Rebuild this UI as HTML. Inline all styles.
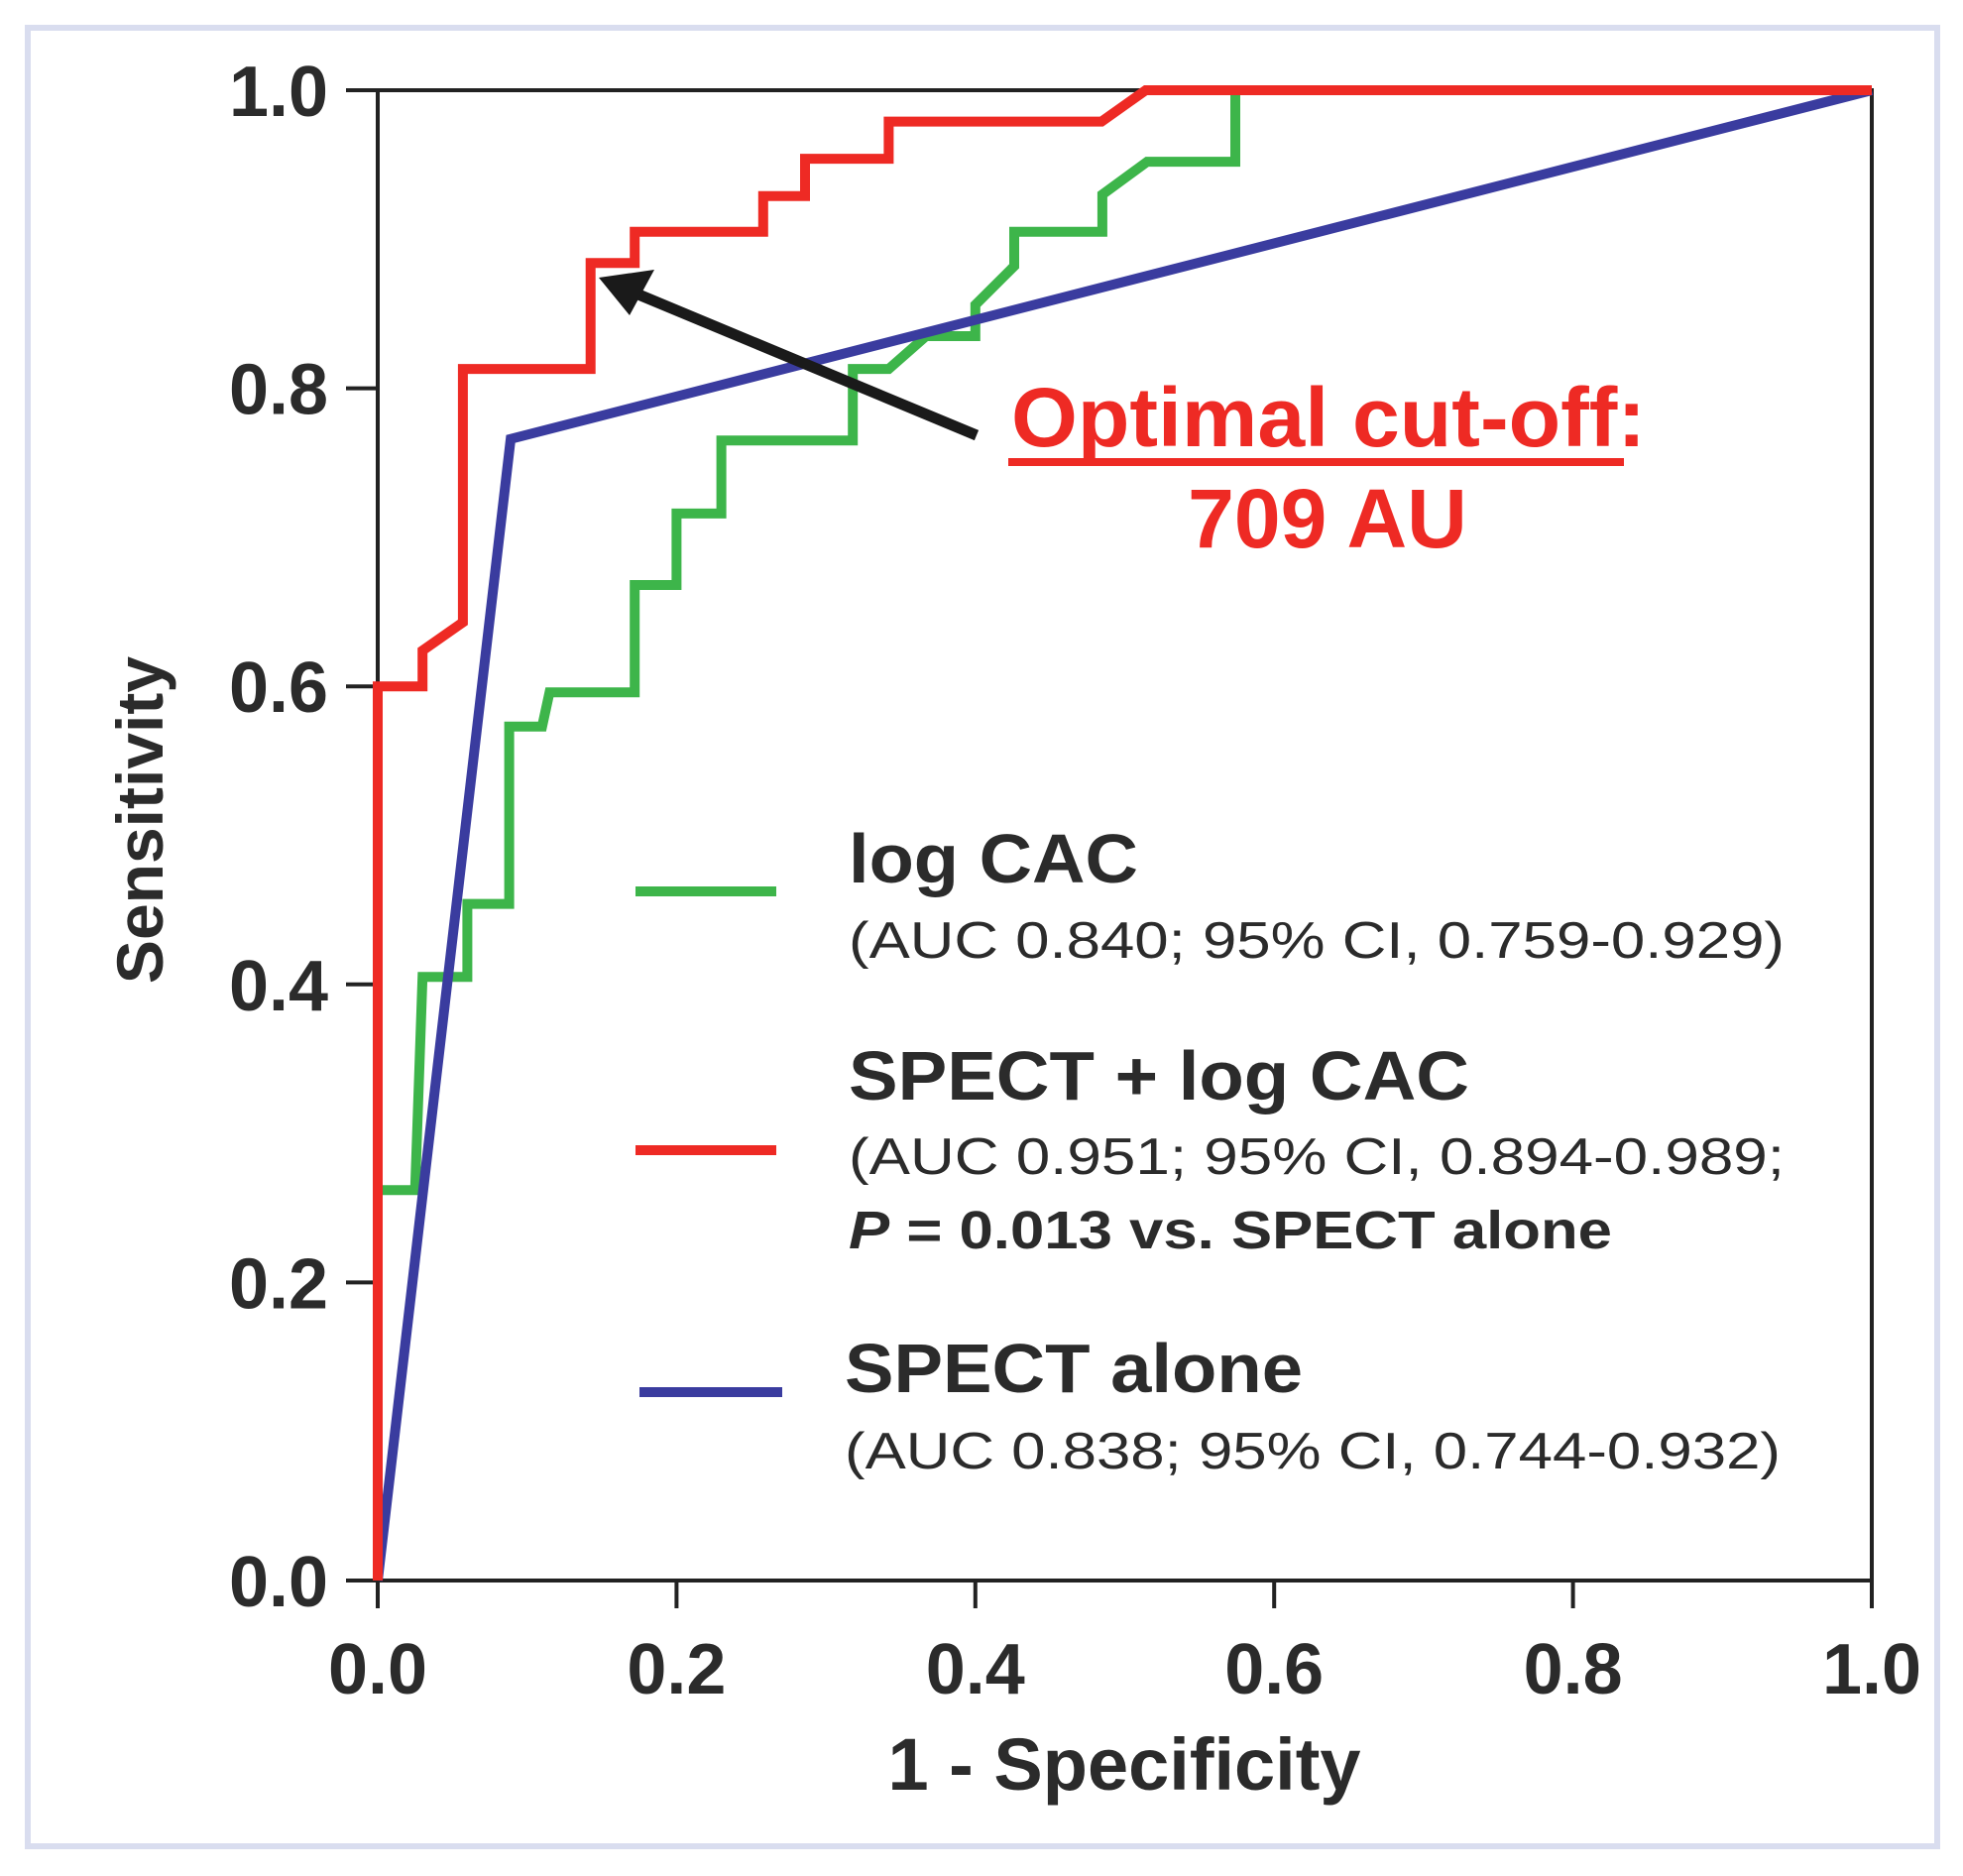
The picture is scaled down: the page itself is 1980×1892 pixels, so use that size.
<!DOCTYPE html>
<html><head><meta charset="utf-8"><style>
html,body{margin:0;padding:0;background:#fff}
svg{display:block}
text{font-family:"Liberation Sans",Arial,sans-serif}
</style></head><body>
<svg id="chart" width="1980" height="1892" viewBox="0 0 1980 1892" xmlns="http://www.w3.org/2000/svg">
<rect x="28" y="28" width="1926" height="1834" fill="#fff" stroke="#d9ddef" stroke-width="6"/>
<g id="axes"></g>
<g id="series"></g>
<g>
 <line x1="985" y1="439" x2="632" y2="292" stroke="#1a1a1a" stroke-width="11"/>
 <polygon points="604,280 660,272 635,318" fill="#1a1a1a"/>
 <text x="1020" y="450" font-size="84" font-weight="bold" fill="#ee2a24" textLength="640" lengthAdjust="spacingAndGlyphs">Optimal cut-off:</text>
 <rect x="1017" y="462" width="621" height="8" fill="#ee2a24"/>
 <text x="1339" y="552" font-size="84" font-weight="bold" fill="#ee2a24" text-anchor="middle">709 AU</text>
</g>
<g fill="#2b2b2b">
 <line x1="641" y1="899" x2="783" y2="899" stroke="#3db54a" stroke-width="10"/>
 <text x="856" y="890" font-size="70" font-weight="bold" textLength="292" lengthAdjust="spacingAndGlyphs">log CAC</text>
 <text x="856" y="966" font-size="52" textLength="944" lengthAdjust="spacingAndGlyphs">(AUC 0.840; 95% CI, 0.759-0.929)</text>
 <line x1="641" y1="1160" x2="783" y2="1160" stroke="#ee2a24" stroke-width="10"/>
 <text x="856" y="1109" font-size="70" font-weight="bold" textLength="626" lengthAdjust="spacingAndGlyphs">SPECT + log CAC</text>
 <text x="856" y="1184" font-size="52" textLength="944" lengthAdjust="spacingAndGlyphs">(AUC 0.951; 95% CI, 0.894-0.989;</text>
 <text x="856" y="1259" font-size="54" font-weight="bold" textLength="770" lengthAdjust="spacingAndGlyphs"><tspan font-style="italic">P</tspan> = 0.013 vs. SPECT alone</text>
 <line x1="645" y1="1404" x2="789" y2="1404" stroke="#3a3c9f" stroke-width="10"/>
 <text x="852" y="1404" font-size="70" font-weight="bold" textLength="462" lengthAdjust="spacingAndGlyphs">SPECT alone</text>
 <text x="852" y="1481" font-size="52" textLength="944" lengthAdjust="spacingAndGlyphs">(AUC 0.838; 95% CI, 0.744-0.932)</text>
</g>
</svg>
<script>
const xTicks = [0, 0.2, 0.4, 0.6, 0.8, 1.0];
const yTicks = [0, 0.2, 0.4, 0.6, 0.8, 1.0];
const tickLabels = ["0.0", "0.2", "0.4", "0.6", "0.8", "1.0"];
const logCacX = [0, 0, 0.025, 0.03, 0.06, 0.06, 0.088, 0.088, 0.11, 0.115, 0.172, 0.172, 0.2, 0.2, 0.23, 0.23, 0.318, 0.318, 0.342, 0.367, 0.4, 0.4, 0.426, 0.426, 0.485, 0.485, 0.515, 0.574, 0.574, 1];
const logCacY = [0, 0.262, 0.262, 0.405, 0.405, 0.454, 0.454, 0.573, 0.573, 0.596, 0.596, 0.668, 0.668, 0.716, 0.716, 0.765, 0.765, 0.813, 0.813, 0.835, 0.835, 0.856, 0.882, 0.905, 0.905, 0.93, 0.952, 0.952, 1, 1];
const comboX = [0, 0, 0.03, 0.03, 0.057, 0.057, 0.1425, 0.1425, 0.172, 0.172, 0.258, 0.258, 0.286, 0.286, 0.342, 0.342, 0.4845, 0.514, 1];
const comboY = [0, 0.6, 0.6, 0.624, 0.643, 0.813, 0.813, 0.884, 0.884, 0.905, 0.905, 0.929, 0.929, 0.954, 0.954, 0.979, 0.979, 1, 1];
const spectX = [0, 0.089, 1];
const spectY = [0, 0.766, 1];

const NS = "http://www.w3.org/2000/svg";
const X0 = 381, X1 = 1888, Y0 = 1594, Y1 = 91;
function sx(v){ return X0 + v * (X1 - X0); }
function sy(v){ return Y0 - v * (Y0 - Y1); }
function mk(tag, attrs, parent){
  const e = document.createElementNS(NS, tag);
  for (const k in attrs) e.setAttribute(k, attrs[k]);
  parent.appendChild(e);
  return e;
}
const axes = document.getElementById('axes');
const series = document.getElementById('series');

const box = mk('rect', {x:X0, y:Y1, width:X1-X0, height:Y0-Y1, fill:'none', stroke:'#222', 'stroke-width':4}, axes);



xTicks.forEach((v, i) => {
  const t = mk('line', {x1:sx(v), x2:sx(v), y1:Y0, y2:Y0+28, stroke:'#222', 'stroke-width':4}, axes);
  
  
  const l = mk('text', {x:sx(v), y:1708, 'font-size':72, 'font-weight':'bold', fill:'#2b2b2b', 'text-anchor':'middle', textLength:100, lengthAdjust:'spacingAndGlyphs'}, axes);
  
  
  l.textContent = tickLabels[i];
});
yTicks.forEach((v, i) => {
  const t = mk('line', {x1:X0-32, x2:X0, y1:sy(v), y2:sy(v), stroke:'#222', 'stroke-width':4}, axes);
  
  
  const l = mk('text', {x:331, y:sy(v)+26, 'font-size':72, 'font-weight':'bold', fill:'#2b2b2b', 'text-anchor':'end', textLength:100, lengthAdjust:'spacingAndGlyphs'}, axes);
  
  
  l.textContent = tickLabels[i];
});
const xt = mk('text', {x:1134, y:1805, 'font-size':74, 'font-weight':'bold', fill:'#2b2b2b', 'text-anchor':'middle'}, axes);


xt.textContent = '1 - Specificity';
const yt = mk('text', {x:0, y:0, 'font-size':66, 'font-weight':'bold', fill:'#2b2b2b', 'text-anchor':'middle', transform:'translate(164,827) rotate(-90)'}, axes);


yt.textContent = 'Sensitivity';

function drawLine(xs, ys, color, name){
  const pts = xs.map((x, i) => sx(x).toFixed(1) + ',' + sy(ys[i]).toFixed(1)).join(' ');
  const p = mk('polyline', {points:pts, fill:'none', stroke:color, 'stroke-width':10, 'stroke-linejoin':'miter'}, series);
  
  
}
drawLine(logCacX, logCacY, '#3db54a', 'log-cac-curve');
drawLine(spectX, spectY, '#3a3c9f', 'spect-alone-curve');
drawLine(comboX, comboY, '#ee2a24', 'spect-plus-log-cac-curve');
</script>
</body></html>
